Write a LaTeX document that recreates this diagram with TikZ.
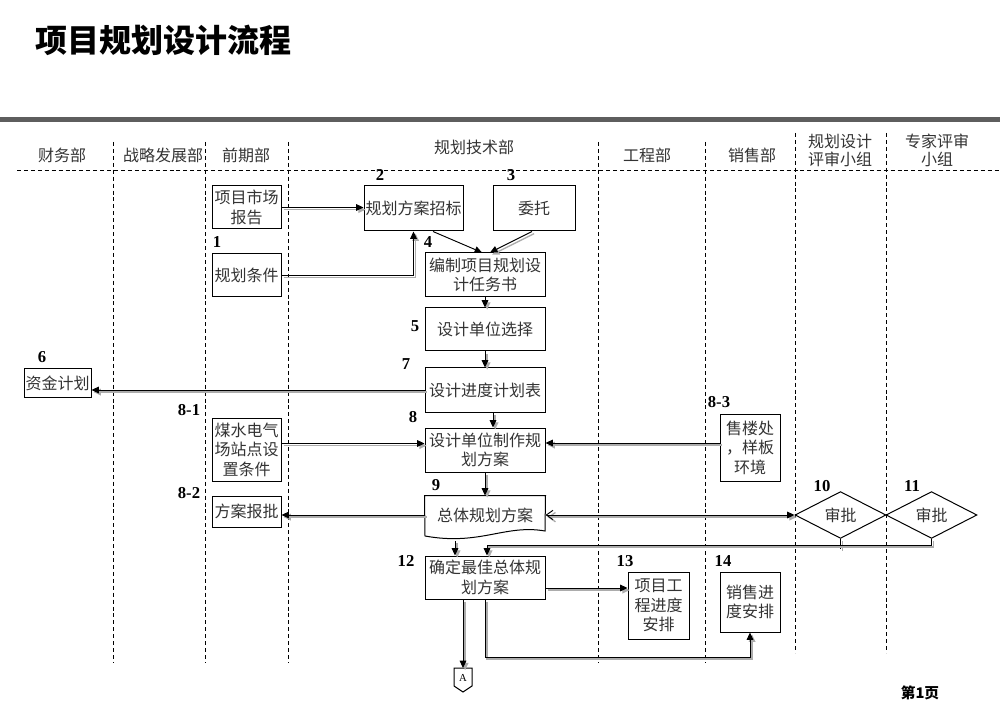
\documentclass[tikz,border=0pt]{standalone}
\usepackage{fontspec}
\setmainfont{Noto Sans CJK SC}
\newfontfamily\numfont{Liberation Serif}
\usetikzlibrary{arrows.meta,shapes.geometric}
\tikzset{
  box/.style={draw, line width=0.75pt, inner sep=0pt, align=center, font=\fontsize{12}{14.6}\selectfont, text=black!80},
  num/.style={font=\numfont\bfseries\fontsize{12.5}{14}\selectfont, inner sep=0pt},
  head/.style={font=\fontsize{12}{13.5}\selectfont, align=center, text=black!80, inner sep=0pt},
  lane/.style={dash pattern=on 3pt off 2.2pt, line width=0.6pt},
  conn/.style={draw=black, line width=0.7pt, -{Triangle[length=5.5pt,width=5pt]}},
  conngray/.style={draw=gray!65, line width=1pt, -{Triangle[length=5.5pt,width=5pt]}, transform canvas={xshift=1.6pt,yshift=-1.6pt}},
  decide/.style={draw, diamond, line width=0.75pt, inner sep=0pt, minimum width=91*0.75pt, minimum height=38*0.75pt, font=\fontsize{12}{14}\selectfont, text=black!80},
}
\newcommand\twin[2][]{\draw[conngray,#1] #2; \draw[conn,#1] #2;}
\begin{document}
\begin{tikzpicture}[x=0.75pt,y=-0.75pt]
\useasboundingbox (0,0) rectangle (1000,720);
% title and bar
\node[font=\fontsize{24}{24}\selectfont\bfseries, anchor=west, inner sep=0pt] (title) at (35,40) {项目规划设计流程};
\fill[black!63] (0,117) rectangle (1000,122);
% lanes
\draw[lane] (17,170) -- (1000,170);
\foreach \lx in {113,205,288,598,705} {\draw[lane] (\lx,142) -- (\lx,663);}
\foreach \lx in {795,886} {\draw[lane] (\lx,133) -- (\lx,653);}
% headers
\node[head] (h1) at (62,155) {财务部};
\node[head] (h2) at (163,155) {战略发展部};
\node[head] (h3) at (246,155) {前期部};
\node[head] (h4) at (474,147) {规划技术部};
\node[head] (h5) at (647,155) {工程部};
\node[head] (h6) at (752,155) {销售部};
\node[head] (h7) at (840,150) {规划设计\\评审小组};
\node[head] (h8) at (937,150) {专家评审\\小组};
% boxes
\node[box, minimum width=69*0.75pt, minimum height=43*0.75pt] (mkt) at (246.5,207.5) {项目市场\\报告};
\node[box, minimum width=69*0.75pt, minimum height=43*0.75pt] (cond) at (246.5,275.5) {规划条件};
\node[box, minimum width=99*0.75pt, minimum height=45*0.75pt] (bid) at (413.5,208.5) {规划方案招标};
\node[box, minimum width=82*0.75pt, minimum height=45*0.75pt] (ent) at (534,208.5) {委托};
\node[box, minimum width=120*0.75pt, minimum height=44*0.75pt] (task) at (485,275) {编制项目规划设\\计任务书};
\node[box, minimum width=120*0.75pt, minimum height=43*0.75pt] (sel) at (485,329.5) {设计单位选择};
\node[box, minimum width=67*0.75pt, minimum height=28*0.75pt] (fund) at (57.5,383) {资金计划};
\node[box, minimum width=120*0.75pt, minimum height=44*0.75pt] (sched) at (485,390) {设计进度计划表};
\node[box, minimum width=69*0.75pt, minimum height=63*0.75pt] (util) at (246.5,449.5) {煤水电气\\场站点设\\置条件};
\node[box, minimum width=120*0.75pt, minimum height=44*0.75pt] (make) at (485,450) {设计单位制作规\\划方案};
\node[box, minimum width=60*0.75pt, minimum height=67*0.75pt] (sales) at (750,447.5) {售楼处\\，样板\\环境};
\node[box, minimum width=69*0.75pt, minimum height=31*0.75pt] (appr) at (246.5,511.5) {方案报批};
\node[box, draw=none, minimum width=120*0.75pt, minimum height=38*0.75pt] (plan) at (485,515) {总体规划方案};
\draw[line width=0.75pt] (plan.north west) -- (plan.north east) -- (545,531) .. controls (505,524) and (480,546) .. (425,536) -- cycle;
\node[decide] (d10) at (840.5,515) {审批};
\node[decide] (d11) at (931.5,515) {审批};
\node[box, minimum width=120*0.75pt, minimum height=43*0.75pt] (best) at (485,577.5) {确定最佳总体规\\划方案};
\node[box, minimum width=61*0.75pt, minimum height=67*0.75pt] (eng) at (658.5,605.5) {项目工\\程进度\\安排};
\node[box, minimum width=60*0.75pt, minimum height=60*0.75pt] (sp) at (750,602) {销售进\\度安排};
\draw[line width=0.75pt] (454,668) -- (472,668) -- (472,686) -- (463,692) -- (454,686) -- cycle;
\node[font=\numfont\fontsize{8}{8}\selectfont, inner sep=0pt] (A) at (463,678) {A};
\coordinate (Atop) at (463,668);
% number labels
\node[num] (n1) at (217,242) {1};
\node[num] (n2) at (380,175) {2};
\node[num] (n3) at (511,175) {3};
\node[num] (n4) at (428,242) {4};
\node[num] (n5) at (415,326) {5};
\node[num] (n6) at (42,357) {6};
\node[num] (n7) at (406,364) {7};
\node[num] (n81) at (189,410) {8-1};
\node[num] (n8) at (413,417) {8};
\node[num] (n83) at (719,402) {8-3};
\node[num] (n82) at (189,493) {8-2};
\node[num] (n9) at (436,485) {9};
\node[num] (n10) at (822,486) {10};
\node[num] (n11) at (912,486) {11};
\node[num] (n12) at (406,561) {12};
\node[num] (n13) at (625,561) {13};
\node[num] (n14) at (723,561) {14};
\node[font=\fontsize{11}{11}\selectfont\bfseries, inner sep=0pt] (page) at (920,693) {第1页};
% helper coordinates
\coordinate (pb) at (455,541);
\coordinate (j) at (487,545);
\coordinate (d10t) at (840.5,549);
\coordinate (j2) at (750,657);
% connectors
\twin{(mkt.east) -- (mkt.east -| bid.west)}
\twin{(cond.east) -| (bid.south)}
\draw[conn] ([xshift=19.5*0.75pt]bid.south) -- ([xshift=-3*0.75pt]task.north);
\twin{([xshift=-2*0.75pt]ent.south) -- ([xshift=5*0.75pt]task.north)}
\twin{(task.south) -- (sel.north)}
\twin{(sel.south) -- (sched.north)}
\twin{(sched.west) -- (sched.west -| fund.east)}
\twin{([xshift=8*0.75pt]sched.south) -- ([xshift=8*0.75pt]make.north)}
\twin{([yshift=6*0.75pt]util.east) -- ([yshift=6*0.75pt]util.east -| make.west)}
\twin{([yshift=4.5*0.75pt]sales.west) -- ([yshift=4.5*0.75pt]sales.west -| make.east)}
\twin{(make.south) -- (plan.north)}
\twin{(plan.west) -- (plan.west -| appr.east)}
\twin[{Straight Barb[length=5pt,width=7pt]}-{Triangle[length=5.5pt,width=5pt]}]{(plan.east) -- (d10.west)}
\twin{(pb) -- (pb |- best.north)}
\twin[-]{(d10.south) -- (d10t)}
\twin{(d11.south) |- (j) -- (j |- best.north)}
\twin{([yshift=-10.5*0.75pt]best.east) -- ([yshift=-10.5*0.75pt]best.east -| eng.west)}
\twin{(best.south) |- (j2) -- (sp.south)}
\twin{([xshift=-22*0.75pt]best.south) -- (Atop)}
\end{tikzpicture}
\end{document}
